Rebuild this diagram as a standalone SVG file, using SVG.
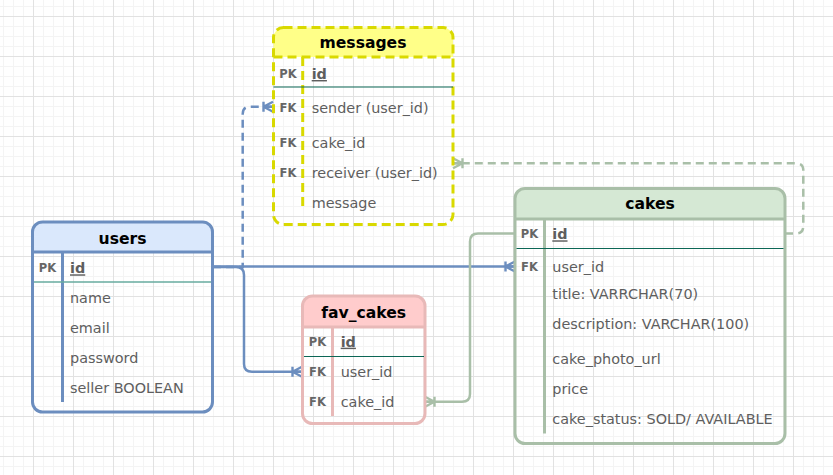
<svg xmlns="http://www.w3.org/2000/svg" width="833" height="475" viewBox="0 0 833 475">
<style>
.title{font-family:"DejaVu Sans",sans-serif;font-weight:bold;font-size:15.6px;fill:#000;text-anchor:middle}
.key{font-family:"DejaVu Sans",sans-serif;font-weight:bold;font-size:11.5px;fill:#666;text-anchor:middle}
.fld{font-family:"DejaVu Sans",sans-serif;font-size:14.4px;fill:#5e5e5e}
.pk{font-weight:bold;text-decoration:underline}
.conn{fill:none;stroke-width:2.5}
.blue{stroke:#6c8ebf}
.green{stroke:#a9bfa8}
.dash{stroke-dasharray:8 5}
</style>
<defs>
<pattern id="minor" patternUnits="userSpaceOnUse" x="3" y="6" width="10" height="10">
<rect x="0" y="0" width="10" height="1" fill="#f4f4f4"/>
<rect x="0" y="0" width="1" height="10" fill="#f4f4f4"/>
</pattern>
<pattern id="major" patternUnits="userSpaceOnUse" x="33" y="16" width="40" height="40">
<rect x="0" y="0" width="40" height="1" fill="#e2e2e2"/>
<rect x="0" y="0" width="1" height="40" fill="#e2e2e2"/>
</pattern>
<marker id="crowBlue" markerUnits="userSpaceOnUse" viewBox="-2 -7 14 14" markerWidth="14" markerHeight="14" refX="10.5" refY="0" orient="auto">
<path d="M1,0 L10.5,-5 M1,0 L10.5,5 M1,0 L10.5,0 M1,-5 V5" fill="none" stroke="#6c8ebf" stroke-width="2.4" stroke-dasharray="none"/>
</marker>
<marker id="crowGreen" markerUnits="userSpaceOnUse" viewBox="-2 -7 14 14" markerWidth="14" markerHeight="14" refX="10.5" refY="0" orient="auto">
<path d="M1,0 L10.5,-5 M1,0 L10.5,5 M1,0 L10.5,0 M1,-5 V5" fill="none" stroke="#a9bfa8" stroke-width="2.4" stroke-dasharray="none"/>
</marker>
</defs>
<rect width="833" height="475" fill="#ffffff"/>
<rect width="833" height="475" fill="url(#minor)"/>
<rect width="833" height="475" fill="url(#major)"/>

<g id="connectors">
<path class="conn blue dash" d="M213,267 H242.7 V114 Q242.7,106.7 250,106.7 H273" marker-end="url(#crowBlue)"/>
<path class="conn blue" d="M213,267 H236 Q244,267 244,275 V364 Q244,371.7 252,371.7 H302" marker-end="url(#crowBlue)"/>
<path class="conn blue" d="M213,266.5 H515" marker-end="url(#crowBlue)"/>
<path class="conn green dash" d="M785,233.5 H796 Q803.3,233.5 803.3,226 V170 Q803.3,163.3 796,163.3 H453" marker-end="url(#crowGreen)"/>
<path class="conn green" d="M515,233.5 H478 Q470,233.5 470,241.5 V394 Q470,401.7 462,401.7 H425" marker-end="url(#crowGreen)"/>
</g>

<g id="messages">
<path d="M273.5,37.5 a10,10 0 0 1 10,-10 H443 a10,10 0 0 1 10,10 V57 H273.5 Z" fill="#ffff88"/>
<rect x="273.5" y="27.5" width="179.5" height="197" rx="10" fill="none" stroke="#d9d900" stroke-width="3" stroke-dasharray="9 5"/>
<line x1="273.5" y1="57" x2="453" y2="57" stroke="#d9d900" stroke-width="3" stroke-dasharray="9 5"/>
<line x1="302.7" y1="57" x2="302.7" y2="210" stroke="#d9d900" stroke-width="3" stroke-dasharray="9 5"/>
<line x1="273.5" y1="87" x2="453" y2="87" stroke="#0b6655" stroke-width="1.2"/>
<text class="title" x="363" y="48">messages</text>
<text class="key" x="288" y="77.5">PK</text>
<text class="fld pk" x="311.7" y="79">id</text>
<text class="key" x="288" y="111.5">FK</text>
<text class="fld" x="311.7" y="112.5">sender (user_id)</text>
<text class="key" x="288" y="147">FK</text>
<text class="fld" x="311.7" y="148">cake_id</text>
<text class="key" x="288" y="177">FK</text>
<text class="fld" x="311.7" y="178">receiver (user_id)</text>
<text class="fld" x="311.7" y="207.7">message</text>
</g>

<g id="users">
<path d="M32.5,232 a10,10 0 0 1 10,-10 H202.5 a10,10 0 0 1 10,10 V252 H32.5 Z" fill="#dae8fc"/>
<rect x="32.5" y="222" width="180" height="190" rx="10" fill="none" stroke="#6c8ebf" stroke-width="3"/>
<line x1="32.5" y1="252" x2="212.5" y2="252" stroke="#6c8ebf" stroke-width="3"/>
<line x1="62.5" y1="252" x2="62.5" y2="402" stroke="#6c8ebf" stroke-width="3"/>
<line x1="34" y1="282" x2="211" y2="282" stroke="#67ab9f" stroke-width="1.5"/>
<text class="title" x="122.5" y="244">users</text>
<text class="key" x="47.5" y="272">PK</text>
<text class="fld pk" x="70" y="273.3">id</text>
<text class="fld" x="70" y="303.3">name</text>
<text class="fld" x="70" y="333.3">email</text>
<text class="fld" x="70" y="363.3">password</text>
<text class="fld" x="70" y="393.3">seller BOOLEAN</text>
</g>

<g id="fav_cakes">
<path d="M302.5,306 a10,10 0 0 1 10,-10 H415 a10,10 0 0 1 10,10 V327 H302.5 Z" fill="#ffcccc"/>
<rect x="302.5" y="296" width="122.5" height="127.5" rx="10" fill="none" stroke="#e8b9b8" stroke-width="3"/>
<line x1="302.5" y1="327" x2="425" y2="327" stroke="#e8b9b8" stroke-width="3"/>
<line x1="332.5" y1="327" x2="332.5" y2="416" stroke="#e8b9b8" stroke-width="3"/>
<line x1="304" y1="356.5" x2="424" y2="356.5" stroke="#0b6655" stroke-width="1.2"/>
<text class="title" x="363.7" y="318.3">fav_cakes</text>
<text class="key" x="317.5" y="345.5">PK</text>
<text class="fld pk" x="340.7" y="346.7">id</text>
<text class="key" x="317.5" y="375.5">FK</text>
<text class="fld" x="340.7" y="376.7">user_id</text>
<text class="key" x="317.5" y="405.5">FK</text>
<text class="fld" x="340.7" y="406.7">cake_id</text>
</g>

<g id="cakes">
<path d="M515,198.5 a10,10 0 0 1 10,-10 H775 a10,10 0 0 1 10,10 V219 H515 Z" fill="#d5e8d4"/>
<rect x="515" y="188.5" width="270" height="255" rx="10" fill="none" stroke="#a9bfa8" stroke-width="3"/>
<line x1="515" y1="219" x2="785" y2="219" stroke="#a9bfa8" stroke-width="3"/>
<line x1="544.5" y1="219" x2="544.5" y2="433.5" stroke="#a9bfa8" stroke-width="3"/>
<line x1="516.5" y1="248.5" x2="783.5" y2="248.5" stroke="#0b6655" stroke-width="1.2"/>
<text class="title" x="650" y="209.3">cakes</text>
<text class="key" x="529.5" y="238">PK</text>
<text class="fld pk" x="552.3" y="239.3">id</text>
<text class="key" x="529.5" y="270.5">FK</text>
<text class="fld" x="552.3" y="271.7">user_id</text>
<text class="fld" x="552.3" y="299">title: VARRCHAR(70)</text>
<text class="fld" x="552.3" y="329.3">description: VARCHAR(100)</text>
<text class="fld" x="552.3" y="364">cake_photo_url</text>
<text class="fld" x="552.3" y="394.3">price</text>
<text class="fld" x="552.3" y="424">cake_status: SOLD/ AVAILABLE</text>
</g>
</svg>
